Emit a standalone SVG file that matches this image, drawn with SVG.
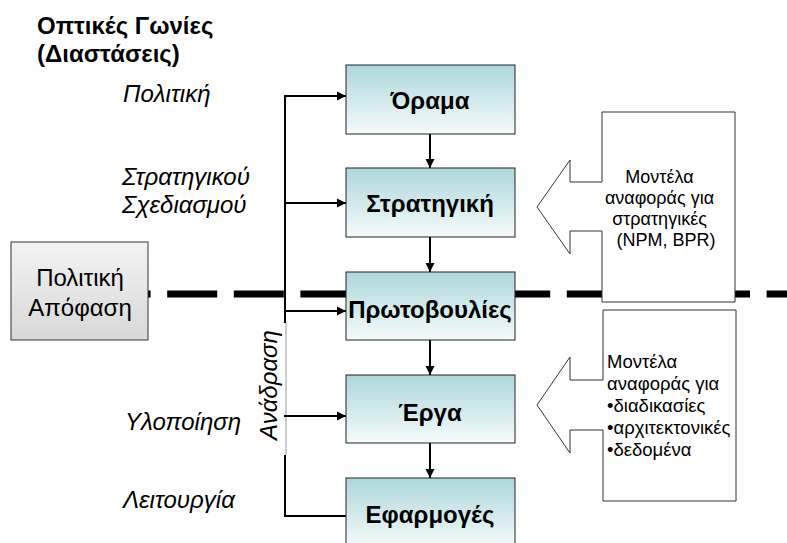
<svg xmlns="http://www.w3.org/2000/svg" width="787" height="543" viewBox="0 0 787 543">
<style>
.t{font-family:"Liberation Sans",Arial,sans-serif;fill:#000}
.b{font-weight:bold;font-size:24px;text-anchor:middle}
.i{font-style:italic;font-size:24px}
.box{fill:url(#teal);stroke:#222;stroke-width:1}
.ln{stroke:#000;stroke-width:2;fill:none}
.call{fill:#fff;stroke:#333;stroke-width:1}
</style>
<defs>
<linearGradient id="teal" x1="0" y1="0" x2="0" y2="1">
<stop offset="0" stop-color="#add7db"/>
<stop offset="1" stop-color="#f5fbfb"/>
</linearGradient>
<linearGradient id="gray" x1="0" y1="0" x2="0" y2="1">
<stop offset="0" stop-color="#f3f3f3"/>
<stop offset="1" stop-color="#d8d8d8"/>
</linearGradient>
<marker id="ah" markerWidth="10" markerHeight="10" refX="9" refY="5" orient="auto" markerUnits="userSpaceOnUse">
<path d="M0,0.5 L9,5 L0,9.5 Z" fill="#000"/>
</marker>
</defs>

<g id="title">
<text class="t" x="37" y="34" font-size="24" font-weight="bold">Οπτικές Γωνίες</text>
<text class="t" x="37" y="62" font-size="24" font-weight="bold">(Διαστάσεις)</text>
</g>

<g id="dim-labels">
<text class="t i" x="123" y="102" font-size="23">Πολιτική</text>
<text class="t i" x="122" y="185">Στρατηγικού</text>
<text class="t i" x="122" y="213">Σχεδιασμού</text>
<text class="t i" x="125" y="430">Υλοποίηση</text>
<text class="t i" x="123" y="508">Λειτουργία</text>
</g>

<g id="divider">
<line x1="34" y1="294" x2="787" y2="294" stroke="#000" stroke-width="7" stroke-dasharray="50 16.6"/>
</g>

<g id="connectors">
<line class="ln" x1="285" y1="95" x2="285" y2="323"/>
<line class="ln" x1="285" y1="455" x2="285" y2="517"/>
<line x1="286" y1="323" x2="286" y2="455" stroke="#999" stroke-width="1"/>
<line class="ln" x1="284" y1="96" x2="346" y2="96" marker-end="url(#ah)"/>
<line class="ln" x1="284" y1="203" x2="346" y2="203" marker-end="url(#ah)"/>
<line class="ln" x1="284" y1="311" x2="346" y2="311" marker-end="url(#ah)"/>
<line class="ln" x1="284" y1="416" x2="346" y2="416" marker-end="url(#ah)"/>
<line class="ln" x1="284" y1="516" x2="346" y2="516"/>
<line class="ln" x1="430" y1="134" x2="430" y2="168" marker-end="url(#ah)"/>
<line class="ln" x1="430" y1="237" x2="430" y2="272" marker-end="url(#ah)"/>
<line class="ln" x1="430" y1="340" x2="430" y2="375" marker-end="url(#ah)"/>
<line class="ln" x1="430" y1="443" x2="430" y2="478" marker-end="url(#ah)"/>
</g>

<g id="feedback-label">
<text class="t i" transform="translate(277,385) rotate(-90)" text-anchor="middle">Ανάδραση</text>
</g>

<g id="decision">
<rect x="11" y="242" width="137" height="98" fill="url(#gray)" stroke="#333" stroke-width="1"/>
<text class="t" x="80" y="286" font-size="24" text-anchor="middle">Πολιτική</text>
<text class="t" x="80" y="316" font-size="24" text-anchor="middle">Απόφαση</text>
</g>

<g id="orama">
<rect class="box" x="346" y="65" width="169" height="69"/>
<text class="t b" x="430" y="109">Όραμα</text>
</g>
<g id="strategiki">
<rect class="box" x="346" y="168" width="169" height="69"/>
<text class="t b" x="430" y="212">Στρατηγική</text>
</g>
<g id="protovoulies">
<rect class="box" x="346" y="272" width="169" height="68"/>
<text class="t b" x="430" y="318">Πρωτοβουλίες</text>
</g>
<g id="erga">
<rect class="box" x="346" y="375" width="169" height="68"/>
<text class="t b" x="430" y="421">Έργα</text>
</g>
<g id="efarmoges">
<rect class="box" x="346" y="478" width="169" height="70"/>
<text class="t b" x="430" y="523">Εφαρμογές</text>
</g>

<g id="callout-strategy">
<path class="call" d="M602,112 H735 V302 H602 V231 H570 V254 L537,207 L570,160 V182 H602 Z"/>
<text class="t" font-size="18" text-anchor="middle">
<tspan x="662" y="183">Μοντέλα</tspan>
<tspan x="662" y="204">αναφοράς για</tspan>
<tspan x="662" y="225">στρατηγικές</tspan>
<tspan x="666" y="246">(NPM, BPR)</tspan>
</text>
</g>

<g id="callout-processes">
<path class="call" d="M603,310 H736 V501 H603 V430 H570 V453 L537,405 L570,357 V380 H603 Z"/>
<text class="t" font-size="18.5">
<tspan x="607" y="368">Μοντέλα</tspan>
<tspan x="607" y="390">αναφοράς για</tspan>
<tspan x="607" y="412">•διαδικασίες</tspan>
<tspan x="607" y="434">•αρχιτεκτονικές</tspan>
<tspan x="607" y="456">•δεδομένα</tspan>
</text>
</g>
</svg>
